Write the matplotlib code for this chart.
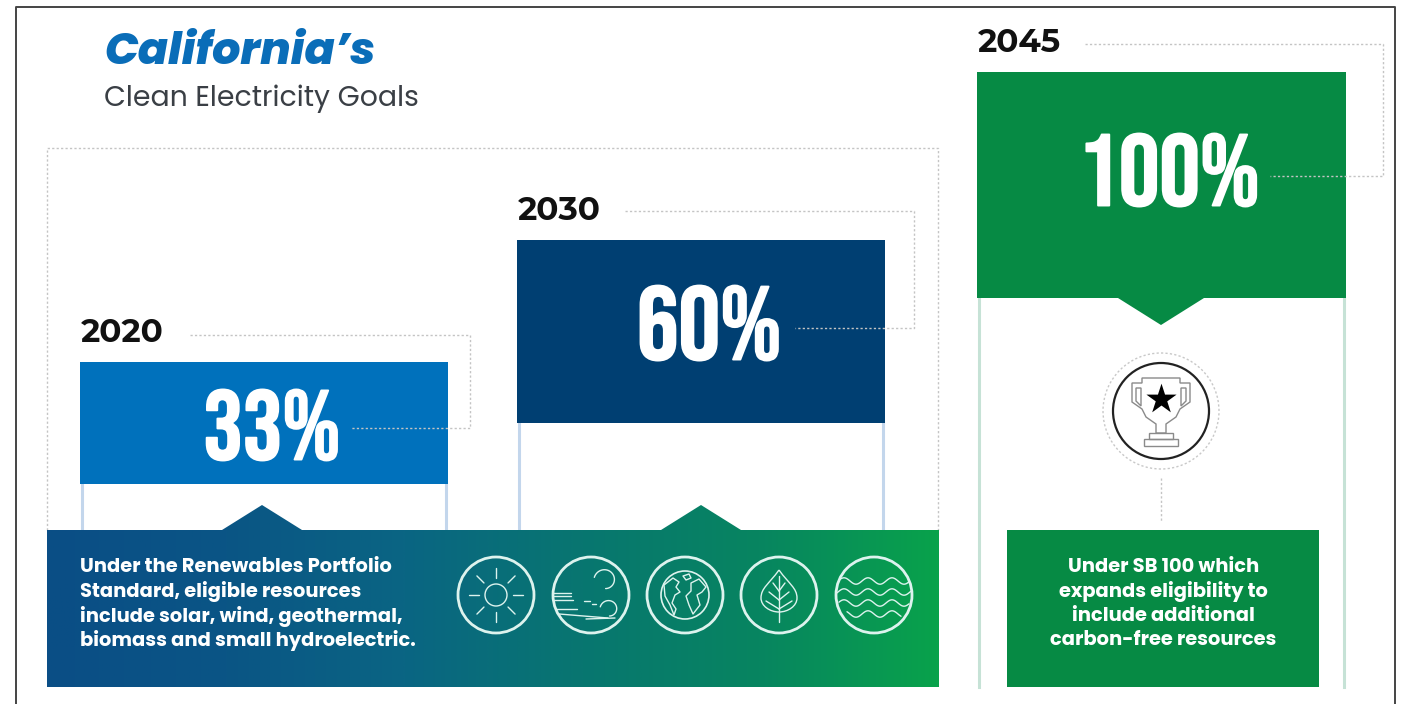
import numpy as np
import matplotlib
matplotlib.use("Agg")
import matplotlib.pyplot as plt
import matplotlib.patheffects as pe
from matplotlib.colors import LinearSegmentedColormap
from matplotlib.patches import Circle, Polygon, Rectangle, PathPatch
from matplotlib.path import Path
import logging
logging.getLogger("matplotlib.font_manager").setLevel(logging.ERROR)

# Goals
years = ["2020", "2030", "2045"]
goals = [33, 60, 100]
title = "California’s"
subtitle = "Clean Electricity Goals"
note_rps = ["Under the Renewables Portfolio", "Standard, eligible resources",
            "include solar, wind, geothermal,", "biomass and small hydroelectric."]
note_sb100 = ["Under SB 100 which", "expands eligibility to",
              "include additional", "carbon-free resources"]

# Typefaces, each with fallbacks
SANS = ["Poppins", "Open Sans", "DejaVu Sans"]
WIDE = ["Montserrat Alternates", "Poppins", "Open Sans", "DejaVu Sans"]
NARROW = ["Bebas Neue", "League Gothic", "Liberation Sans Narrow", "DejaVu Sans"]

# Panel colours
bar_colors = ["#0071BC", "#003F72", "#068A44"]
stem_colors = ["#C3D6EC", "#C3D6EC", "#C6E2D6"]

# Panel layout, in pixels: the steps are staggered rather than drawn to a common scale
bar_left = [80, 517, 977]
bar_right = [448, 885, 1346]
bar_top = [362, 240, 72]
bar_bottom = [484, 423, 298]
stem_bottom = [530, 530, 687]
connector_x = [470, 914, 1383]
connector_start = [190, 625, 1085]
connector_y = [335, 211, 44]
connector_end = [350, 795, 1270]
connector_turn = [428, 328, 176]
year_y = [333, 211, 43]
percent_x = [272, 709, 1169]
percent_y = [425, 323, 170]
percent_size = [71, 75, 73]

fig = plt.figure(figsize=(14.07, 7.04), dpi=100, facecolor="white")
ax = fig.add_axes([0, 0, 1, 1])
ax.set_xlim(0, 1407)
ax.set_ylim(704, 0)
ax.axis("off")

# Page frame, open at the bottom
ax.plot([15.5, 15.5, 1395, 1395], [704, 6.5, 6.5, 704], color="#444444", lw=1.4, zorder=1)

DOT = dict(color="#C4C4C4", lw=1.0, linestyle=(0, (1.6, 1.6)), zorder=4)

# Dotted enclosure around the 2020 and 2030 goals
ax.plot([47, 47, 938, 938], [530, 148, 148, 530], **DOT)

for i, (yr, g) in enumerate(zip(years, goals)):
    l, r = bar_left[i], bar_right[i]
    for sx in (l + 2, r - 2):
        ax.plot([sx, sx], [bar_bottom[i], stem_bottom[i]], color=stem_colors[i], lw=2.2, zorder=2)
    ax.add_patch(Rectangle((l, bar_top[i]), r - l, bar_bottom[i] - bar_top[i],
                           fc=bar_colors[i], ec="none", zorder=3))
    ax.text(l + 1, year_y[i], yr, fontsize=23.5, fontweight="bold", family=WIDE,
            color="#111111", va="center", ha="left", zorder=5)
    ax.text(percent_x[i], percent_y[i], f"{g}%", fontsize=percent_size[i],
            family=NARROW, color="white", va="center", ha="center", zorder=5,
            path_effects=[pe.withStroke(linewidth=1.4, foreground="white")])
    ax.plot([connector_start[i], connector_x[i], connector_x[i], connector_end[i]],
            [connector_y[i], connector_y[i], connector_turn[i], connector_turn[i]], **DOT)

# Notch under the 2045 panel
ax.add_patch(Polygon([(1118, 298), (1204, 298), (1161, 325)], fc=bar_colors[2], ec="none", zorder=3))

# Gradient band with its two pointers
cmap = LinearSegmentedColormap.from_list(
    "band", ["#0A4E86", "#0A5585", "#0A6583", "#087670", "#078560", "#09A24B"])
band = ax.imshow(np.linspace(0, 1, 512)[None, :], cmap=cmap, aspect="auto",
                 extent=(47, 939, 687, 505), zorder=4.5)
outline = Polygon([(47, 530), (222, 530), (262, 505), (302, 530), (661, 530), (701, 505),
                   (741, 530), (939, 530), (939, 687), (47, 687)], transform=ax.transData)
band.set_clip_path(outline)
ax.set_xlim(0, 1407)
ax.set_ylim(704, 0)

for k, line in enumerate(note_rps):
    ax.text(80, 567 + k * 24.6, line, fontsize=14, fontweight="bold", family=SANS,
            color="white", va="center", ha="left", zorder=5)

# SB 100 box
ax.add_patch(Rectangle((1007, 530), 312, 157, fc="#068A44", ec="none", zorder=3))
for k, line in enumerate(note_sb100):
    ax.text(1163.5, 567 + k * 24.6, line, fontsize=14, fontweight="bold", family=SANS,
            color="white", va="center", ha="center", zorder=5)

ICON = "#DDF3EE"


def ln(xs, ys, lw=1.0):
    ax.plot(xs, ys, color=ICON, lw=lw, zorder=6, solid_capstyle="round")


def ring(cx, cy, r=38):
    ax.add_patch(Circle((cx, cy), r, fc="none", ec=ICON, lw=2.0, zorder=6))


def sun(cx, cy):
    ring(cx, cy)
    ax.add_patch(Circle((cx, cy), 11, fc="none", ec=ICON, lw=1.0, zorder=6))
    for a in np.deg2rad(np.arange(0, 360, 45)):
        ln([cx + 17 * np.cos(a), cx + 27 * np.cos(a)], [cy + 17 * np.sin(a), cy + 27 * np.sin(a)])


def curl(cx, cy, r):
    t = np.linspace(-2.9, 1.5, 40)
    rad = r * (1 - 0.05 * (t + 2.9))
    ln(cx + rad * np.cos(t), cy + rad * np.sin(t))


def wind(cx, cy):
    ring(cx, cy)
    curl(cx + 14, cy - 15, 11)
    curl(cx + 18, cy + 14, 9)
    ln([cx - 38, cx - 20], [cy - 2, cy - 2])
    ln([cx - 37, cx - 20], [cy + 1, cy + 1])
    ln([cx - 37, cx - 18], [cy + 5, cy + 5])
    ln([cx - 35, cx - 14], [cy + 14, cy + 14])
    ln([cx - 32, cx + 17], [cy + 19, cy + 23])
    ln([cx - 5, cx + 24], [cy + 24, cy + 23])
    ln([cx - 7, cx - 1], [cy + 6, cy + 6])
    ln([cx + 1, cx + 5], [cy + 9, cy + 9])


def earth(cx, cy):
    ring(cx, cy)
    ax.add_patch(Circle((cx, cy), 24, fc="none", ec=ICON, lw=1.2, zorder=6))
    # Simplified continent outlines, relative to the globe centre
    lands = [
        [(-21, -10), (-12, -17), (-6, -13), (-9, -8), (-5, -3), (-10, 0), (-13, 8), (-9, 14),
         (-11, 20), (-15, 10), (-20, 1)],
        [(-2, -19), (4, -21), (6, -17), (1, -15)],
        [(6, -12), (14, -16), (21, -8), (17, -3), (12, 0), (15, 10), (8, 19), (4, 10), (1, 1),
         (6, -4)],
    ]
    for pts in lands:
        ax.add_patch(Polygon([(cx + x, cy + y) for x, y in pts], fc="none", ec=ICON, lw=1.0,
                             joinstyle="round", zorder=6))


def leaf(cx, cy):
    ring(cx, cy)
    top, bot, w = cy - 25, cy + 17, 18
    verts = [(cx, top), (cx - 10, top + 14), (cx - w, top + 18), (cx - w, top + 28),
             (cx - w, top + 36), (cx - 9, bot), (cx, bot),
             (cx + 9, bot), (cx + w, top + 36), (cx + w, top + 28),
             (cx + w, top + 18), (cx + 10, top + 14), (cx, top)]
    codes = [Path.MOVETO] + [Path.CURVE4] * 12
    ax.add_patch(PathPatch(Path(verts, codes), fc="none", ec=ICON, lw=1.0, zorder=6))
    ln([cx, cx], [top + 6, cy + 27])
    for dy, dx in ((-12, 6), (-3, 10), (6, 13)):
        for s in (-1, 1):
            ln([cx, cx + s * dx], [cy + dy + 8, cy + dy])


def waves(cx, cy):
    ring(cx, cy)
    for dy, half in ((-14, 35), (-3, 37), (8, 35), (19, 27)):
        t = np.linspace(-half, half, 90)
        ln(cx + t, cy + dy + 3.2 * np.sin(t * 2 * np.pi / 24), lw=1.0)


for draw, cx in zip((sun, wind, earth, leaf, waves), (496, 591, 685, 779, 874)):
    draw(cx, 595)

# Trophy badge
tx, ty = 1161, 411
ax.add_patch(Circle((tx, ty), 58, fc="none", ec="#C8C8C8", lw=1.0, linestyle=(0, (1.6, 1.6)), zorder=4))
ax.add_patch(Circle((tx, ty), 48, fc="white", ec="#222222", lw=1.6, zorder=4))
ax.plot([tx, tx], [478, 522], **DOT)
TROPHY = "#8A8A8A"
cup = [(tx - 19, ty - 33), (tx + 19, ty - 33), (tx + 19, ty - 28), (tx + 29, ty - 28), (tx + 29, ty - 9),
       (tx + 19, ty - 2), (tx + 15, ty + 6), (tx + 5, ty + 13), (tx + 5, ty + 22), (tx - 5, ty + 22),
       (tx - 5, ty + 13), (tx - 15, ty + 6), (tx - 19, ty - 2), (tx - 29, ty - 9), (tx - 29, ty - 28),
       (tx - 19, ty - 28)]
ax.add_patch(Polygon(cup, fc="none", ec=TROPHY, lw=1.0, zorder=5))
ax.add_patch(Polygon([(tx - 25, ty - 23), (tx - 20, ty - 23), (tx - 20, ty - 5), (tx - 25, ty - 10)],
                     fc="none", ec=TROPHY, lw=1.0, zorder=5))
ax.add_patch(Polygon([(tx + 25, ty - 23), (tx + 20, ty - 23), (tx + 20, ty - 5), (tx + 25, ty - 10)],
                     fc="none", ec=TROPHY, lw=1.0, zorder=5))
ax.add_patch(Rectangle((tx - 12, ty + 22), 24, 6, fc="none", ec=TROPHY, lw=1.0, zorder=5))
ax.add_patch(Rectangle((tx - 17, ty + 28), 34, 7, fc="none", ec=TROPHY, lw=1.0, zorder=5))
ax.scatter([tx], [ty - 12], marker="*", s=520, color="black", linewidths=0, zorder=6)

# Heading
ax.text(104, 54, title, fontsize=32, fontweight="heavy", style="italic", family=SANS,
        color="#0A6DB8", va="center", ha="left", zorder=5)
ax.text(104, 99, subtitle, fontsize=20.4, family=SANS, color="#3A3F45",
        va="center", ha="left", zorder=5)

fig.savefig("out.png", dpi=100, facecolor="white")
